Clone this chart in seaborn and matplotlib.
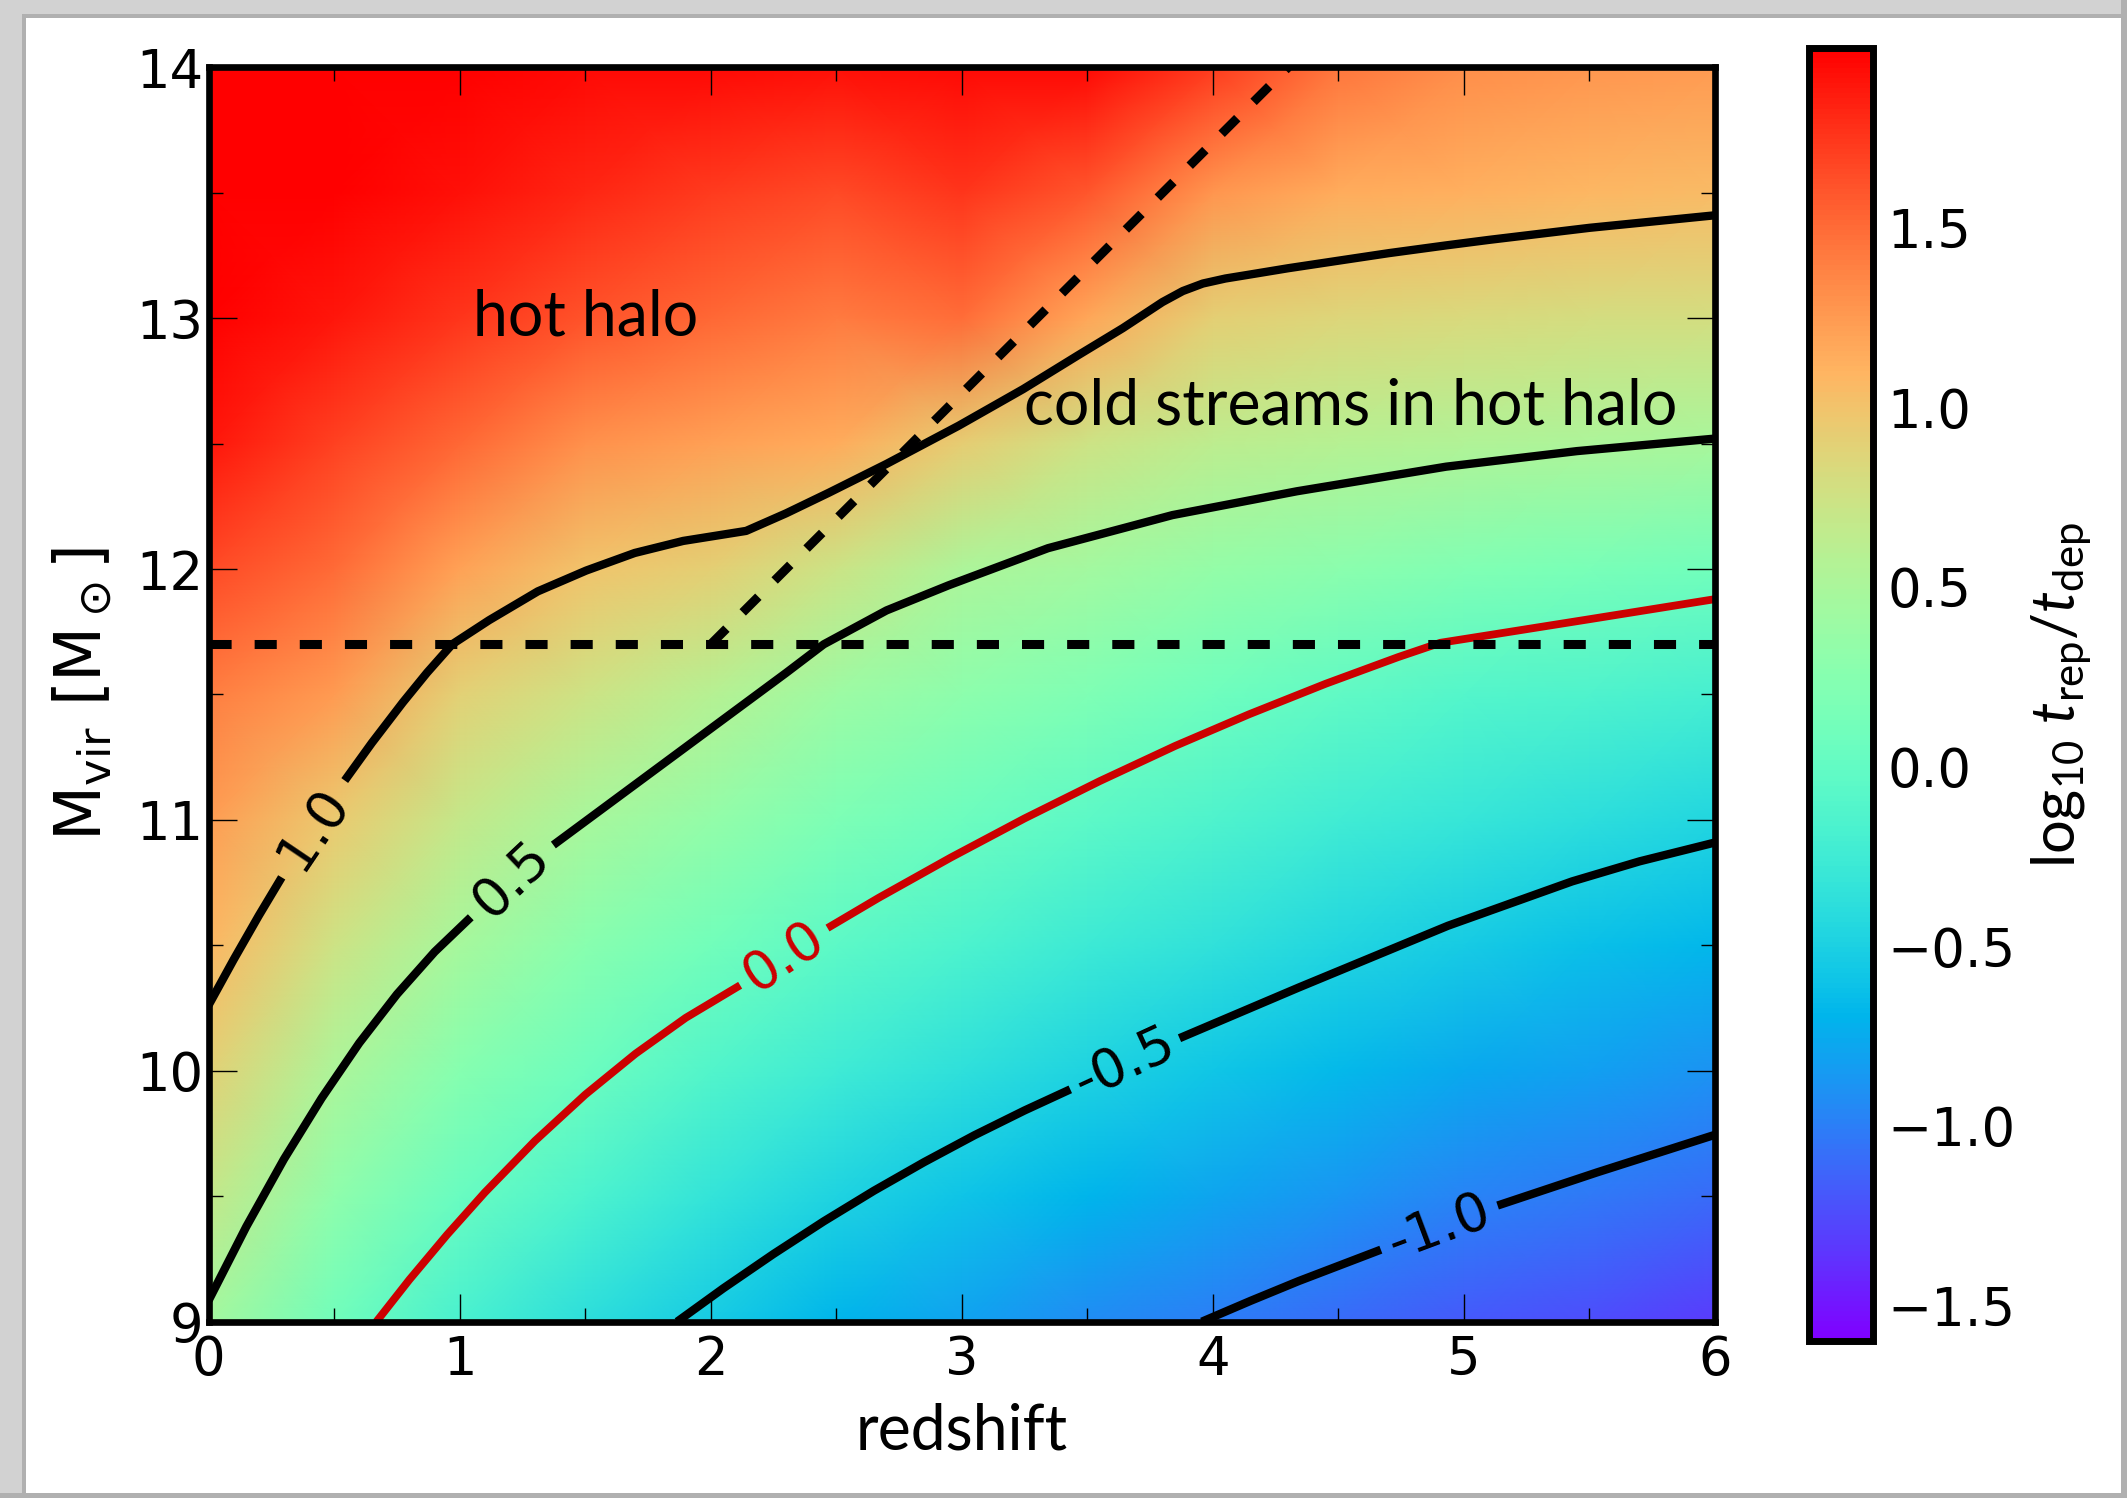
import numpy as np
import pandas as pd
import matplotlib
matplotlib.use("Agg")
import matplotlib.pyplot as plt
import seaborn as sns
from matplotlib.patches import Rectangle
from matplotlib.colors import Normalize
from matplotlib.ticker import MultipleLocator

# ---------------- data ----------------
# background field log10(t_rep/t_dep) on a node grid
redshift_nodes = [0.0, 0.5, 1.0, 1.5, 2.0, 2.5, 3.0, 3.5, 4.0, 4.5, 5.0, 5.5, 6.0]
mass_nodes = [9.0, 9.5, 10.0, 10.5, 11.0, 11.5, 12.0, 12.5, 13.0, 13.5, 14.0]
# one column per redshift node, values from M=9 (first) to M=14 (last)
field_z0p0 = [0.46, 0.68, 0.89, 1.08, 1.24, 1.40, 1.65, 1.90, 2.10, 2.20, 2.30]
field_z0p5 = [0.09, 0.31, 0.52, 0.74, 0.95, 1.25, 1.50, 1.70, 1.90, 2.05, 2.15]
field_z1p0 = [-0.18, 0.04, 0.25, 0.47, 0.69, 0.90, 1.20, 1.52, 1.75, 1.92, 2.05]
field_z1p5 = [-0.38, -0.16, 0.06, 0.27, 0.49, 0.74, 0.99, 1.30, 1.62, 1.82, 1.95]
field_z2p0 = [-0.54, -0.33, -0.11, 0.11, 0.33, 0.58, 0.91, 1.22, 1.52, 1.72, 1.95]
field_z2p5 = [-0.70, -0.48, -0.26, -0.04, 0.18, 0.40, 0.73, 1.15, 1.42, 1.66, 1.92]
field_z3p0 = [-0.80, -0.59, -0.37, -0.16, 0.06, 0.29, 0.52, 0.93, 1.48, 1.75, 1.95]
field_z3p5 = [-0.93, -0.70, -0.48, -0.27, -0.05, 0.19, 0.44, 0.74, 1.18, 1.60, 1.95]
field_z4p0 = [-1.00, -0.79, -0.58, -0.36, -0.15, 0.08, 0.35, 0.63, 0.91, 1.28, 1.72]
field_z4p5 = [-1.10, -0.88, -0.67, -0.46, -0.24, -0.02, 0.28, 0.58, 0.86, 1.15, 1.45]
field_z5p0 = [-1.18, -0.97, -0.76, -0.54, -0.32, -0.10, 0.20, 0.55, 0.83, 1.12, 1.32]
field_z5p5 = [-1.24, -1.03, -0.82, -0.62, -0.39, -0.15, 0.15, 0.52, 0.80, 1.08, 1.27]
field_z6p0 = [-1.32, -1.10, -0.89, -0.68, -0.45, -0.20, 0.09, 0.49, 0.78, 1.05, 1.25]

# contour lines (redshift, log Mvir); each split in two at its label
c_p10_a_z = [0.0, 0.1, 0.2, 0.291]
c_p10_a_m = [10.262, 10.444, 10.619, 10.771]
c_p10_b_z = [0.542, 0.65, 0.774, 0.87, 0.97, 1.117, 1.311, 1.504, 1.697, 1.890, 2.141,
             2.30, 2.47, 2.70, 2.987, 3.244, 3.463, 3.641, 3.799, 3.88, 3.96, 4.05, 4.136,
             4.3, 4.533, 4.7, 4.929, 5.1, 5.425, 5.5, 6.0]
c_p10_b_m = [11.157, 11.307, 11.469, 11.587, 11.70, 11.796, 11.911, 11.994, 12.064, 12.112, 12.152,
             12.222, 12.304, 12.419, 12.571, 12.717, 12.852, 12.96, 13.064, 13.108, 13.138, 13.158, 13.172,
             13.199, 13.234, 13.259, 13.290, 13.312, 13.351, 13.360, 13.41]

c_p05_a_z = [0.0, 0.15, 0.30, 0.45, 0.60, 0.75, 0.90, 1.044]
c_p05_a_m = [9.085, 9.379, 9.648, 9.891, 10.111, 10.305, 10.474, 10.612]
c_p05_b_z = [1.373, 1.55, 1.75, 1.95, 2.15, 2.30, 2.45, 2.70, 2.947, 3.343, 3.839, 4.335,
             4.929, 5.45, 6.0]
c_p05_b_m = [10.90, 11.031, 11.179, 11.327, 11.475, 11.586, 11.70, 11.835, 11.935, 12.083, 12.215,
             12.31, 12.408, 12.47, 12.52]

c_000_a_z = [0.668, 0.8, 0.95, 1.1, 1.3, 1.5, 1.7, 1.9, 2.117]
c_000_a_m = [9.0, 9.168, 9.347, 9.515, 9.721, 9.905, 10.068, 10.211, 10.341]
c_000_b_z = [2.465, 2.668, 2.956, 3.25, 3.55, 3.85, 4.144, 4.45, 4.738, 4.906, 5.09, 5.5, 6.0]
c_000_b_m = [10.569, 10.689, 10.850, 11.006, 11.155, 11.295, 11.421, 11.543, 11.649, 11.706,
             11.735, 11.80, 11.88]

c_m05_a_z = [1.866, 2.05, 2.25, 2.45, 2.65, 2.85, 3.05, 3.25, 3.432]
c_m05_a_m = [9.0, 9.133, 9.270, 9.400, 9.522, 9.636, 9.743, 9.842, 9.926]
c_m05_b_z = [3.867, 4.342, 4.936, 5.431, 5.7, 6.0]
c_m05_b_m = [10.13, 10.332, 10.578, 10.755, 10.835, 10.91]

c_m10_a_z = [3.956, 4.15, 4.342, 4.669]
c_m10_a_m = [9.0, 9.083, 9.162, 9.287]
c_m10_b_z = [5.134, 5.53, 6.0]
c_m10_b_m = [9.463, 9.595, 9.745]

# contour labels
label_text = ["1.0", "0.5", "0.0", "-0.5", "-1.0"]
label_z = [0.416, 1.208, 2.291, 3.650, 4.902]
label_m = [10.965, 10.76, 10.455, 10.03, 9.375]
label_rot = [56.0, 43.5, 33.4, 24.7, 20.5]

# dashed threshold lines
threshold_z = [0.0, 6.0]
threshold_m = [11.7, 11.7]
stream_z = [2.0, 4.3]
stream_m = [11.7, 14.0]

cbar_ticks = [-1.5, -1.0, -0.5, 0.0, 0.5, 1.0, 1.5]

# ---------------- style ----------------
sns.set_style("ticks")
plt.rcParams.update({
    "font.family": ["DejaVu Sans"],
    "mathtext.fontset": "dejavusans",
    "mathtext.rm": "Lato",
    "mathtext.it": "Lato:italic",
    "mathtext.bf": "Lato:bold",
    "axes.linewidth": 4.8,
    "axes.edgecolor": "black",
    "text.color": "black",
    "axes.labelcolor": "black",
    "xtick.color": "black",
    "ytick.color": "black",
})

W, H = 2127, 1498
fig = plt.figure(figsize=(W / 100, H / 100), dpi=100)
fig.patch.set_facecolor("white")

# slide-like frame around figure
frame_fc = "#d2d2d2"
frame_line = "#b0b0b0"
fig.add_artist(Rectangle((0, 0), 22 / W, 1, transform=fig.transFigure, fc=frame_fc, ec="none", zorder=-5))
fig.add_artist(Rectangle((22 / W, 0), 4 / W, 1 - 14 / H, transform=fig.transFigure, fc=frame_line, ec="none", zorder=-5))
fig.add_artist(Rectangle((0, 1 - 14 / H), 1, 14 / H, transform=fig.transFigure, fc=frame_fc, ec="none", zorder=-5))
fig.add_artist(Rectangle((22 / W, 1 - 18 / H), 1 - 28 / W, 4 / H, transform=fig.transFigure, fc=frame_line, ec="none", zorder=-5))
fig.add_artist(Rectangle((1 - 6 / W, 0), 6 / W, 1, transform=fig.transFigure, fc=frame_line, ec="none", zorder=-5))
fig.add_artist(Rectangle((0, 0), 1, 5 / H, transform=fig.transFigure, fc=frame_line, ec="none", zorder=-5))

ax = fig.add_axes([0.0981, 0.1177, 0.7082, 0.8374])
cax = fig.add_axes([0.8504, 0.1045, 0.0304, 0.8635])

field = np.column_stack([field_z0p0, field_z0p5, field_z1p0, field_z1p5, field_z2p0, field_z2p5,
                         field_z3p0, field_z3p5, field_z4p0, field_z4p5, field_z5p0, field_z5p5,
                         field_z6p0])
cmap = plt.get_cmap("rainbow")
norm = Normalize(vmin=-1.6, vmax=2.0)
mesh = ax.pcolormesh(np.array(redshift_nodes), np.array(mass_nodes), field,
                     shading="gouraud", cmap=cmap, norm=norm, zorder=0)

# contour lines via seaborn
def seg_rows(level, parts):
    rows = []
    for k, (zs, ms) in enumerate(parts):
        for z, m in zip(zs, ms):
            rows.append((level, f"{level}_{k}", z, m))
    return rows

black_rows = []
black_rows += seg_rows("1.0", [(c_p10_a_z, c_p10_a_m), (c_p10_b_z, c_p10_b_m)])
black_rows += seg_rows("0.5", [(c_p05_a_z, c_p05_a_m), (c_p05_b_z, c_p05_b_m)])
black_rows += seg_rows("-0.5", [(c_m05_a_z, c_m05_a_m), (c_m05_b_z, c_m05_b_m)])
black_rows += seg_rows("-1.0", [(c_m10_a_z, c_m10_a_m), (c_m10_b_z, c_m10_b_m)])
red_rows = seg_rows("0.0", [(c_000_a_z, c_000_a_m), (c_000_b_z, c_000_b_m)])
cols = ["level", "segment", "redshift", "mass"]
df_black = pd.DataFrame(black_rows, columns=cols)
df_red = pd.DataFrame(red_rows, columns=cols)

n0 = len(ax.lines)
sns.lineplot(data=df_black, x="redshift", y="mass", units="segment", estimator=None,
             sort=False, color="black", linewidth=6.0, legend=False, ax=ax)
for ln in ax.lines[n0:]:
    ln.set_linewidth(6.0)
    ln.set_solid_joinstyle("round")
    ln.set_solid_capstyle("butt")
    ln.set_zorder(3)
n1 = len(ax.lines)
sns.lineplot(data=df_red, x="redshift", y="mass", units="segment", estimator=None,
             sort=False, color="#cc0000", linewidth=5.6, legend=False, ax=ax)
for ln in ax.lines[n1:]:
    ln.set_linewidth(5.6)
    ln.set_solid_joinstyle("round")
    ln.set_solid_capstyle("butt")
    ln.set_zorder(3)

# dashed lines
ax.plot(threshold_z, threshold_m, color="black", lw=6.5, linestyle=(0, (2.45, 2.55)),
        dash_capstyle="butt", zorder=4)
ax.plot(stream_z, stream_m, color="black", lw=6.5, linestyle=(0, (2.45, 2.55)),
        dash_capstyle="butt", zorder=4)

# contour labels
for txt, z, m, r in zip(label_text, label_z, label_m, label_rot):
    col = "#cc0000" if txt == "0.0" else "black"
    ax.text(z, m, txt, rotation=r, rotation_mode="anchor", ha="center", va="center",
            fontsize=39, color=col, family="DejaVu Sans", zorder=5)

# region annotations
ax.text(1.5, 12.93, "hot halo", ha="center", va="baseline", fontsize=45, family="Lato",
        color="black", zorder=5)
ax.text(4.548, 12.577, "cold streams in hot halo", ha="center", va="baseline", fontsize=45,
        family="Lato", color="black", zorder=5)

ax.set_xlim(0, 6)
ax.set_ylim(9, 14)
ax.xaxis.set_major_locator(MultipleLocator(1))
ax.xaxis.set_minor_locator(MultipleLocator(0.5))
ax.yaxis.set_major_locator(MultipleLocator(1))
ax.yaxis.set_minor_locator(MultipleLocator(0.5))
ax.tick_params(which="major", direction="in", length=20, width=1.0, top=True, right=True,
               bottom=True, left=True, labelsize=38, color="black", labelcolor="black")
ax.tick_params(axis="x", which="major", pad=9)
ax.tick_params(axis="y", which="major", pad=4)
ax.tick_params(which="minor", direction="in", length=10, width=1.0, top=True, right=True,
               bottom=True, left=True, color="black")
for sp in ax.spines.values():
    sp.set_linewidth(4.8)
    sp.set_color("black")
    sp.set_zorder(10)

ax.set_xlabel("redshift", fontsize=45, family="Lato", labelpad=12, color="black")
ax.set_ylabel(r"M$_{\rm vir}$ [M$_\odot$]", fontsize=46, labelpad=16, color="black",
              math_fontfamily="dejavusans")

cbar = fig.colorbar(mesh, cax=cax, ticks=cbar_ticks)
cbar.outline.set_linewidth(5)
cbar.outline.set_edgecolor("black")
cbar.ax.minorticks_off()
cbar.ax.tick_params(direction="in", length=22, width=1.0, labelsize=38, pad=10,
                    right=True, left=False, color="black", labelcolor="black")
cbar.set_label(r"log$_{10}$ $t_{\rm rep}/t_{\rm dep}$", fontsize=43, family="Lato",
               labelpad=10, color="black", math_fontfamily="custom")

fig.savefig("out.png", dpi=100, facecolor="white")
